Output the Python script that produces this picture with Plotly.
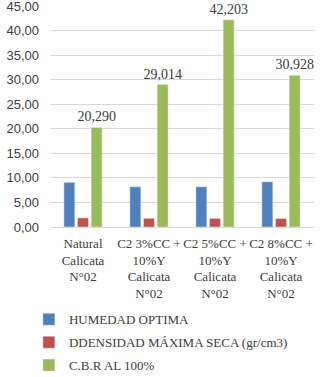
import plotly.graph_objects as go

categories = ["Natural<br>Calicata<br>N°02",
              "C2 3%CC +<br>10%Y<br>Calicata<br>N°02",
              "C2 5%CC +<br>10%Y<br>Calicata<br>N°02",
              "C2 8%CC +<br>10%Y<br>Calicata<br>N°02"]
humedad = [9.1, 8.2, 8.2, 9.2]
densidad = [1.85, 1.76, 1.74, 1.72]
cbr = [20.290, 29.014, 42.203, 30.928]
tick_vals = [0, 5, 10, 15, 20, 25, 30, 35, 40, 45]

serif = "Liberation Serif"
fig = go.Figure()
fig.add_trace(go.Bar(x=categories, y=humedad, name="HUMEDAD OPTIMA",
                     marker_color="#4F81BD", legendgroup="a"))
fig.add_trace(go.Bar(x=categories, y=densidad, name="DDENSIDAD MÁXIMA SECA (gr/cm3)",
                     marker_color="#C0504D", legendgroup="b"))
fig.add_trace(go.Bar(x=categories, y=cbr, name="C.B.R AL 100%",
                     marker_color="#9BBB59", legendgroup="c",
                     texttemplate="%{y:.3f}", textposition="outside",
                     constraintext="none", cliponaxis=False,
                     textfont=dict(family=serif, size=14, color="#404040")))

fig.update_layout(
    width=321, height=377,
    margin=dict(l=50, r=7, t=6, b=150, autoexpand=False),
    plot_bgcolor="white", paper_bgcolor="white",
    separators=",.",
    barmode="group", bargap=0.38, bargroupgap=0.2,
    showlegend=True,
    legend=dict(orientation="v", x=-0.08, xanchor="left", y=-0.35, yanchor="top",
                font=dict(family=serif, size=13, color="#404040"),
                tracegroupgap=3, itemwidth=30),
    font=dict(family=serif, size=14, color="#404040"),
)
fig.update_yaxes(range=[0, 45.02], tickvals=tick_vals, tickformat=".2f",
                 showgrid=True, gridcolor="#D9D9D9", gridwidth=1,
                 zeroline=False, showline=False, automargin=False,
                 ticklabeloverflow="allow", ticklabelstandoff=10,
                 tickfont=dict(family="Liberation Sans", size=13, color="#404040"))
fig.update_xaxes(showline=True, linecolor="#D9D9D9", linewidth=1, tickangle=0,
                 automargin=False, ticklabelstandoff=4,
                 tickfont=dict(family=serif, size=13, color="#404040"))

fig.write_html("out.html", config={"displayModeBar": False},
               post_script="document.body.style.margin='0';document.body.style.overflow='hidden';")
